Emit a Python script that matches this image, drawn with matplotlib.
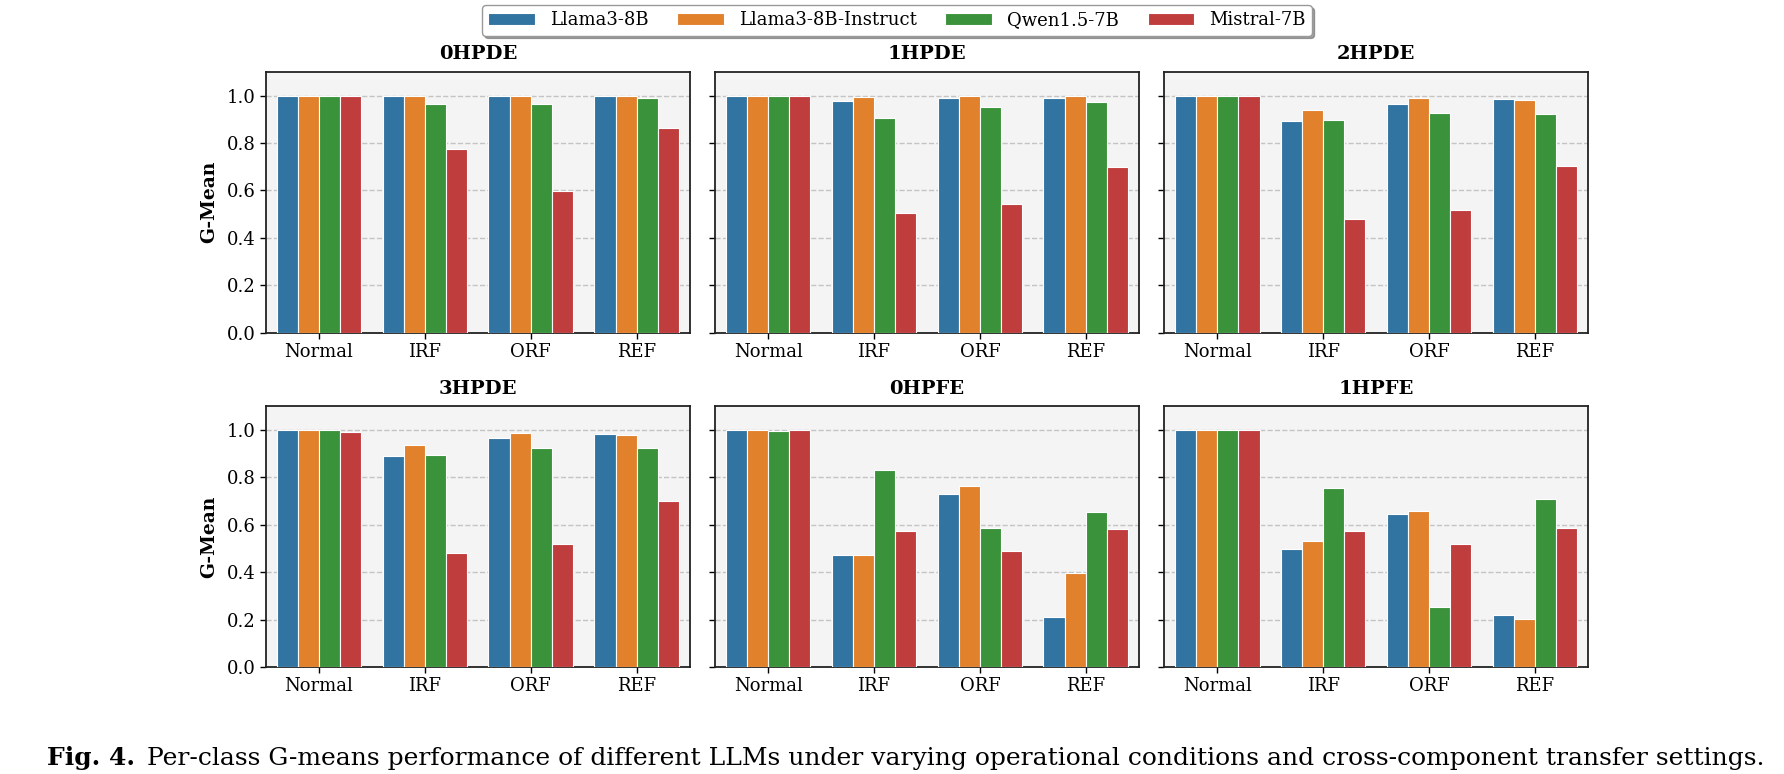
import numpy as np
import matplotlib
matplotlib.use("Agg")
import matplotlib.pyplot as plt
import seaborn as sns

"""Data"""
models = ["Llama3-8B", "Llama3-8B-Instruct", "Qwen1.5-7B", "Mistral-7B"]
conditions = ["Normal", "IRF", "ORF", "REF"]
settings = ["0HPDE", "1HPDE", "2HPDE", "3HPDE", "0HPFE", "1HPFE"]

# one row per model, columns follow `conditions`
gm_0hpde = [[1.000, 1.000, 1.000, 1.000],
            [1.000, 1.000, 1.000, 1.000],
            [1.000, 0.964, 0.966, 0.989],
            [0.997, 0.775, 0.596, 0.865]]
gm_1hpde = [[1.000, 0.977, 0.990, 0.992],
            [1.000, 0.993, 1.000, 0.997],
            [0.998, 0.906, 0.954, 0.972],
            [0.997, 0.506, 0.544, 0.700]]
gm_2hpde = [[1.000, 0.892, 0.966, 0.985],
            [1.000, 0.941, 0.989, 0.980],
            [1.000, 0.897, 0.925, 0.923],
            [0.998, 0.481, 0.519, 0.702]]
gm_3hpde = [[1.000, 0.892, 0.965, 0.985],
            [1.000, 0.938, 0.987, 0.980],
            [1.000, 0.896, 0.923, 0.923],
            [0.994, 0.481, 0.519, 0.702]]
gm_0hpfe = [[1.000, 0.471, 0.729, 0.213],
            [1.000, 0.471, 0.764, 0.396],
            [0.995, 0.832, 0.585, 0.656],
            [1.000, 0.572, 0.488, 0.583]]
gm_1hpfe = [[1.000, 0.498, 0.645, 0.220],
            [1.000, 0.534, 0.659, 0.203],
            [1.000, 0.755, 0.252, 0.709],
            [1.000, 0.572, 0.520, 0.587]]
all_scores = [gm_0hpde, gm_1hpde, gm_2hpde, gm_3hpde, gm_0hpfe, gm_1hpfe]

"""Style"""
plt.rcParams['font.family'] = ['DejaVu Serif']
plt.rcParams['font.size'] = 13
base = ["#1f77b4", "#ff7f0e", "#2ca02c", "#d62728"]
colors = [sns.desaturate(c, 0.75) for c in base]  # seaborn barplot look

"""Plot"""
fig, axes = plt.subplots(2, 3, figsize=(17.84, 7.74), dpi=100, sharey=True)
fig.subplots_adjust(left=0.1491, right=0.8901, top=0.907, bottom=0.1382,
                    hspace=0.283, wspace=0.06)

x = np.arange(len(conditions))
bw = 0.2
for ax, name, scores in zip(axes.flat, settings, all_scores):
    ax.set_facecolor("#f4f4f4")
    for i, m in enumerate(models):
        ax.bar(x + (i - 1.5) * bw, scores[i], width=bw, color=colors[i],
               edgecolor="white", linewidth=0.8, label=m, zorder=3)
    ax.set_ylim(0, 1.1)
    ax.set_xlim(-0.5, 3.5)
    ax.set_yticks([0, 0.2, 0.4, 0.6, 0.8, 1.0])
    ax.set_xticks(x)
    ax.set_xticklabels(conditions)
    ax.yaxis.grid(True, linestyle="--", color="#c4c4c4", linewidth=1.0, zorder=0)
    ax.set_axisbelow(True)
    ax.set_title(name, fontweight="bold", fontsize=14, pad=9)
    ax.tick_params(axis="both", labelsize=13, length=4, width=1.0)
    for s in ax.spines.values():
        s.set_linewidth(1.3)
        s.set_color("#222222")

for ax in axes[:, 0]:
    ax.set_ylabel("G-Mean", fontweight="bold", fontsize=13.5, labelpad=6)

handles, labels = axes[0, 0].get_legend_handles_labels()
fig.legend(handles, labels, loc="upper left", bbox_to_anchor=(482 / 1784, 1 - 5 / 774),
           ncol=4, fontsize=13, frameon=True, fancybox=True, shadow=True,
           handlelength=2.6, handleheight=0.7, columnspacing=1.6,
           edgecolor="#999999", borderpad=0.35, borderaxespad=0)

# caption
fig.canvas.draw()
r = fig.canvas.get_renderer()
cap1 = fig.text(47 / 1784, 1 - 765 / 774, "Fig. 4.", fontweight="bold", fontsize=18,
                va="baseline", ha="left")
bb = cap1.get_window_extent(renderer=r)
fig.text((bb.x1 + 12) / 1784, 1 - 765 / 774,
         "Per-class G-means performance of different LLMs under varying operational "
         "conditions and cross-component transfer settings.",
         fontsize=18, va="baseline", ha="left")

fig.savefig("out.png", dpi=100)
print("end of script")
